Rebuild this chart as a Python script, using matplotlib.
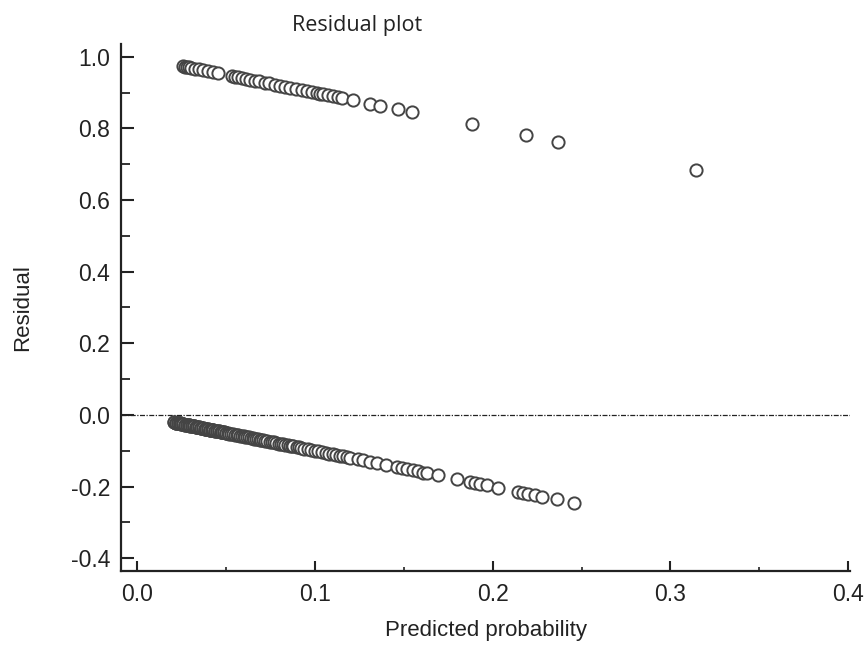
import matplotlib
matplotlib.use("Agg")
import matplotlib.pyplot as plt
import matplotlib.ticker as ticker

# predicted probabilities of the cases with outcome 1 (upper band)
p_pos = [0.0258, 0.0270, 0.0281, 0.0292, 0.0303, 0.0326, 0.0348, 0.0371, 0.0399,
         0.0427, 0.0455, 0.0534, 0.0551, 0.0567, 0.0590, 0.0612, 0.0635, 0.0663,
         0.0685, 0.0719, 0.0742, 0.0775, 0.0803, 0.0831, 0.0860, 0.0893, 0.0927,
         0.0955, 0.0983, 0.1011, 0.1028, 0.1045, 0.1073, 0.1101, 0.1129, 0.1152,
         0.1213, 0.1309, 0.1365, 0.1466, 0.1545, 0.1882, 0.2185, 0.2365, 0.3146]

# predicted probabilities of the cases with outcome 0 (lower band)
p_neg = [0.021, 0.021, 0.022, 0.022, 0.022, 0.023, 0.023, 0.024, 0.024, 0.024,
         0.025, 0.025, 0.026, 0.026, 0.026, 0.027, 0.027, 0.028, 0.028, 0.029,
         0.029, 0.029, 0.030, 0.030, 0.031, 0.031, 0.032, 0.032, 0.032, 0.033,
         0.033, 0.034, 0.034, 0.035, 0.035, 0.036, 0.036, 0.036, 0.037, 0.037,
         0.038, 0.038, 0.039, 0.039, 0.040, 0.040, 0.041, 0.041, 0.041, 0.042,
         0.042, 0.043, 0.043, 0.044, 0.044, 0.045, 0.045, 0.046, 0.046, 0.047,
         0.047, 0.048, 0.048, 0.049, 0.049, 0.050, 0.050, 0.051, 0.052, 0.053,
         0.054, 0.055, 0.056, 0.057, 0.058, 0.059, 0.060, 0.061, 0.062, 0.063,
         0.064, 0.065, 0.066, 0.067, 0.068, 0.069, 0.070, 0.071, 0.072, 0.073,
         0.075, 0.076, 0.077, 0.078, 0.080, 0.081, 0.082, 0.083, 0.085, 0.086,
         0.087, 0.088, 0.090, 0.091, 0.092, 0.094, 0.096, 0.098, 0.100, 0.102,
         0.104, 0.106, 0.108, 0.110, 0.112, 0.114, 0.116, 0.118, 0.120, 0.124,
         0.127, 0.131, 0.135, 0.140, 0.146, 0.149, 0.152, 0.155, 0.158, 0.161,
         0.163, 0.169, 0.180, 0.187, 0.190, 0.193, 0.197, 0.203, 0.214, 0.217,
         0.220, 0.224, 0.228, 0.236, 0.246]

x_ticks = [0.0, 0.1, 0.2, 0.3, 0.4]
y_ticks = [-0.4, -0.2, 0.0, 0.2, 0.4, 0.6, 0.8, 1.0]

# residual = observed - predicted
res_pos = [1 - p for p in p_pos]
res_neg = [0 - p for p in p_neg]

fig = plt.figure(figsize=(8.67, 6.46), dpi=100)
ax = fig.add_axes([0.1396, 0.1161, 0.8408, 0.8158])

ax.axhline(0, color="#222222", lw=0.9, ls=(0, (4, 1.2, 1, 1.2)), zorder=1)

mk = dict(marker="o", ms=8.8, mfc="white", mec="#444444", mew=1.4, ls="none", zorder=3)
for p, r in zip(p_neg, res_neg):
    ax.plot(p, r, **mk)
for p, r in zip(p_pos, res_pos):
    ax.plot(p, r, **mk)

ax.set_xlim(-0.009, 0.401)
ax.set_ylim(-0.436, 1.036)

for s in ["top", "right"]:
    ax.spines[s].set_visible(False)
for s in ["left", "bottom"]:
    ax.spines[s].set_linewidth(1.6)
    ax.spines[s].set_color("#222222")

ax.set_xticks(x_ticks)
ax.set_yticks(y_ticks)
ax.xaxis.set_minor_locator(ticker.MultipleLocator(0.05))
ax.yaxis.set_minor_locator(ticker.MultipleLocator(0.1))
ax.xaxis.set_major_formatter(ticker.FormatStrFormatter("%.1f"))
ax.yaxis.set_major_formatter(ticker.FormatStrFormatter("%.1f"))

ax.tick_params(axis="y", which="major", direction="in", length=9.5, width=1.5,
               pad=8, labelsize=16.5, colors="#222222")
ax.tick_params(axis="y", which="minor", direction="in", length=6.5, width=1.3,
               colors="#222222")
ax.tick_params(axis="x", which="major", direction="in", length=7.5, width=1.5,
               pad=9, labelsize=16.5, colors="#222222")
ax.tick_params(axis="x", which="minor", direction="in", length=3, width=1.2,
               colors="#222222")
for lab in ax.get_xticklabels() + ax.get_yticklabels():
    lab.set_fontfamily("Liberation Sans")

ax.set_xlabel("Predicted probability", fontsize=16, family="Liberation Sans",
              color="#222222", labelpad=10)
ax.set_ylabel("Residual", fontsize=16, family="Liberation Sans",
              color="#222222", labelpad=27)
fig.text(357 / 867, 1 - 25 / 646, "Residual plot", ha="center", va="center",
         fontsize=15.5, family="Open Sans", color="#222222")

fig.savefig("out.png", dpi=100)
